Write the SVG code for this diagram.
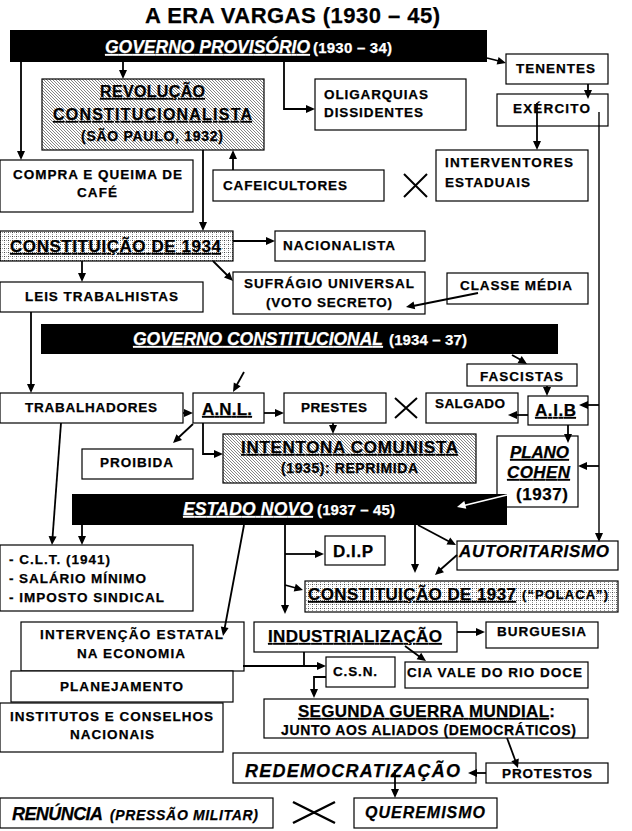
<svg xmlns="http://www.w3.org/2000/svg" width="632" height="831" viewBox="0 0 632 831">
<style>
.t{font-family:"Liberation Sans",Arial,sans-serif;font-weight:bold;font-size:13.5px;fill:#000;stroke:#000;stroke-width:0.25}
.l{font-size:17px}
.s{font-size:14px}
.i{font-style:italic}
.u{text-decoration:underline}
.w{fill:#fff;stroke:#fff}
.m{text-anchor:middle}
.box{fill:#fff;stroke:#000;stroke-width:1.2}
.hb{fill:url(#hatch);stroke:#000;stroke-width:1.2}
.db{fill:url(#dots);stroke:#000;stroke-width:1.2}
.bar{fill:#000}
.c{fill:none;stroke:#000;stroke-width:1.8}
.x{fill:none;stroke:#000;stroke-width:2}
</style>
<defs>
<pattern id="hatch" width="3" height="3" patternUnits="userSpaceOnUse"><rect width="3" height="3" fill="#fff"/><path d="M-1,-1 L4,4 M-1,2 L1,4 M2,-1 L4,1" stroke="#333" stroke-width="0.6"/></pattern>
<pattern id="dots" width="4" height="4" patternUnits="userSpaceOnUse"><rect width="4" height="4" fill="#fff"/><rect x="0" y="0" width="1" height="1" fill="#444"/><rect x="2" y="0" width="1" height="1" fill="#999"/><rect x="0" y="2" width="1" height="1" fill="#999"/></pattern>
</defs>

<rect width="632" height="831" fill="#fff"/>

<text class="t" x="292.5" y="23" style="font-size:22px" text-anchor="middle" textLength="295">A ERA VARGAS (1930 – 45)</text>

<g id="governo-provisorio">
<rect class="bar" x="10" y="30" width="477" height="32"/>
<text class="t l i u w" x="105" y="53" style="font-size:17.5px" textLength="205">GOVERNO PROVISÓRIO</text>
<text class="t w" x="313" y="53" style="font-size:15px" textLength="79">(1930 – 34)</text>
</g>

<g id="revolucao">
<rect class="hb" x="42" y="79" width="222" height="71"/>
<text class="t l u m" x="152.5" y="97" style="font-size:16px" textLength="105">REVOLUÇÃO</text>
<text class="t l u m" x="152.5" y="120" style="font-size:16px" textLength="199">CONSTITUCIONALISTA</text>
<text class="t s m" x="152" y="141" textLength="142">(SÃO PAULO, 1932)</text>
</g>

<g id="compra">
<rect class="box" x="0" y="160" width="193" height="52"/>
<text class="t m" x="97.5" y="179" textLength="169">COMPRA E QUEIMA DE</text>
<text class="t m" x="97" y="197" textLength="40">CAFÉ</text>
</g>

<g id="cafeicultores">
<rect class="box" x="213" y="170" width="171" height="31"/>
<text class="t" x="223" y="190" textLength="124">CAFEICULTORES</text>
</g>

<g id="oligarquias">
<rect class="box" x="315" y="79" width="151" height="51"/>
<text class="t" x="324" y="99" textLength="104">OLIGARQUIAS</text>
<text class="t" x="324" y="117" textLength="99">DISSIDENTES</text>
</g>

<g id="tenentes">
<rect class="box" x="506" y="54" width="102" height="30"/>
<text class="t" x="516" y="73" textLength="79">TENENTES</text>
</g>

<g id="exercito">
<rect class="box" x="497" y="94" width="111" height="32"/>
<text class="t" x="513" y="113" textLength="77">EXÉRCITO</text>
</g>

<g id="interventores">
<rect class="box" x="436" y="150" width="152" height="51"/>
<text class="t" x="445" y="167" textLength="128">INTERVENTORES</text>
<text class="t" x="445" y="187" textLength="85">ESTADUAIS</text>
</g>

<g id="x1"><path class="x" d="M404,174 L427,197 M427,174 L404,197"/></g>

<g id="constituicao-1934">
<rect class="db" x="0" y="231" width="233" height="30"/>
<text class="t l u" x="10" y="252" textLength="211">CONSTITUIÇÃO DE 1934</text>
</g>

<g id="nacionalista">
<rect class="box" x="275" y="231" width="150" height="30"/>
<text class="t" x="283" y="250" textLength="112">NACIONALISTA</text>
</g>

<g id="sufragio">
<rect class="box" x="233" y="272" width="192" height="42"/>
<text class="t" x="244" y="288" textLength="170">SUFRÁGIO UNIVERSAL</text>
<text class="t m" x="329" y="307" textLength="126">(VOTO SECRETO)</text>
</g>

<g id="classe-media">
<rect class="box" x="447" y="273" width="141" height="31"/>
<text class="t" x="460" y="290" textLength="112">CLASSE MÉDIA</text>
</g>

<g id="leis">
<rect class="box" x="0" y="282" width="203" height="30"/>
<text class="t m" x="101.5" y="301" textLength="153">LEIS TRABALHISTAS</text>
</g>

<g id="governo-constitucional">
<rect class="bar" x="41" y="324" width="517" height="30"/>
<text class="t l i u w" x="133" y="345" style="font-size:17.5px" textLength="250">GOVERNO CONSTITUCIONAL</text>
<text class="t w" x="389" y="345" style="font-size:15px" textLength="78">(1934 – 37)</text>
</g>

<g id="fascistas">
<rect class="box" x="467" y="364" width="110" height="22"/>
<text class="t" x="480" y="381" textLength="83">FASCISTAS</text>
</g>

<g id="aib">
<rect class="box" x="528" y="396" width="60" height="29"/>
<text class="t l u" x="535" y="416" textLength="41">A.I.B</text>
</g>

<g id="salgado">
<rect class="box" x="426" y="393" width="92" height="30"/>
<text class="t" x="435" y="408" textLength="70">SALGADO</text>
</g>

<g id="x2"><path class="x" d="M395,398 L417,418 M417,398 L395,418"/></g>

<g id="prestes">
<rect class="box" x="284" y="393" width="102" height="30"/>
<text class="t" x="301" y="412" textLength="66">PRESTES</text>
</g>

<g id="anl">
<rect class="box" x="193" y="393" width="71" height="30"/>
<text class="t l u" x="202" y="415" textLength="50">A.N.L.</text>
</g>

<g id="trabalhadores">
<rect class="box" x="0" y="393" width="183" height="30"/>
<text class="t" x="25" y="412" textLength="132">TRABALHADORES</text>
</g>

<g id="proibida">
<rect class="box" x="82" y="449" width="111" height="30"/>
<text class="t" x="100" y="467" textLength="73">PROIBIDA</text>
</g>

<g id="intentona">
<rect class="hb" x="223" y="434" width="253" height="49"/>
<text class="t l u" x="241" y="453" textLength="217">INTENTONA COMUNISTA</text>
<text class="t s" x="281" y="473" textLength="137">(1935): REPRIMIDA</text>
</g>

<g id="plano-cohen">
<rect class="box" x="497" y="436" width="81" height="71"/>
<text class="t l i u" x="510" y="458" textLength="59">PLANO</text>
<text class="t l i u" x="507" y="478" textLength="63">COHEN</text>
<text class="t l" x="516" y="500" textLength="52">(1937)</text>
</g>

<g id="estado-novo">
<rect class="bar" x="72" y="494" width="435" height="31"/>
<text class="t l i u w" x="183" y="515" style="font-size:17.5px" textLength="130">ESTADO NOVO</text>
<text class="t w" x="317" y="515" style="font-size:15px" textLength="78">(1937 – 45)</text>
</g>

<g id="clt">
<rect class="box" x="0" y="545" width="193" height="66"/>
<text class="t" x="9" y="564" textLength="101">- C.L.T. (1941)</text>
<text class="t" x="9" y="583" textLength="137">- SALÁRIO MÍNIMO</text>
<text class="t" x="9" y="602" textLength="155">- IMPOSTO SINDICAL</text>
</g>

<g id="dip">
<rect class="box" x="325" y="536" width="60" height="29"/>
<text class="t l" x="333" y="557" textLength="40">D.I.P</text>
</g>

<g id="autoritarismo">
<rect class="box" x="457" y="541" width="161" height="29"/>
<text class="t l i" x="459" y="557" textLength="150">AUTORITARISMO</text>
</g>

<g id="constituicao-1937">
<rect class="db" x="305" y="581" width="313" height="31"/>
<text class="t l u" x="308" y="600" textLength="208">CONSTITUIÇÃO DE 1937</text>
<text class="t" x="522" y="599" style="font-size:13px" textLength="86">(“POLACA”)</text>
</g>

<g id="industrializacao">
<rect class="box" x="254" y="622" width="203" height="30"/>
<text class="t l u" x="268" y="642" textLength="174">INDUSTRIALIZAÇÃO</text>
</g>

<g id="burguesia">
<rect class="box" x="486" y="622" width="112" height="26"/>
<text class="t" x="497" y="636" textLength="89">BURGUESIA</text>
</g>

<g id="cia-vale">
<rect class="box" x="405" y="662" width="183" height="26"/>
<text class="t" x="407" y="677" textLength="175">CIA VALE DO RIO DOCE</text>
</g>

<g id="csn">
<rect class="box" x="326" y="657" width="69" height="30"/>
<text class="t" x="333" y="676" textLength="44">C.S.N.</text>
</g>

<g id="intervencao">
<rect class="box" x="21" y="622" width="223" height="49"/>
<text class="t" x="40" y="639" textLength="183">INTERVENÇÃO ESTATAL</text>
<text class="t" x="77" y="658" textLength="108">NA ECONOMIA</text>
</g>

<g id="planejamento">
<rect class="box" x="11" y="671" width="222" height="31"/>
<text class="t" x="60" y="691" textLength="123">PLANEJAMENTO</text>
</g>

<g id="institutos">
<rect class="box" x="0" y="703" width="223" height="49"/>
<text class="t" x="10" y="721" textLength="203">INSTITUTOS E CONSELHOS</text>
<text class="t" x="70" y="739" textLength="84">NACIONAIS</text>
</g>

<g id="segunda-guerra">
<rect class="box" x="264" y="699" width="324" height="39"/>
<text class="t l" x="298" y="717" textLength="257"><tspan class="u">SEGUNDA GUERRA MUNDIAL</tspan>:</text>
<text class="t s" x="281" y="735" textLength="295">JUNTO AOS ALIADOS (DEMOCRÁTICOS)</text>
</g>

<g id="protestos">
<rect class="box" x="486" y="763" width="122" height="20"/>
<text class="t" x="502" y="778" textLength="90">PROTESTOS</text>
</g>

<g id="redemocratizacao">
<rect class="box" x="233" y="753" width="243" height="30"/>
<text class="t i" x="245" y="777" style="font-size:18px" textLength="215">REDEMOCRATIZAÇÃO</text>
</g>

<g id="queremismo">
<rect class="box" x="354" y="798" width="143" height="30"/>
<text class="t i" x="365" y="818" style="font-size:16px" textLength="120">QUEREMISMO</text>
</g>

<g id="renuncia">
<rect class="box" x="0" y="798" width="273" height="30"/>
<text class="t i" x="12" y="820" style="font-size:18px" textLength="91">RENÚNCIA</text>
<text class="t i" x="110" y="820" style="font-size:14px" textLength="148">(PRESSÃO MILITAR)</text>
</g>

<g id="x3"><path class="x" style="stroke-width:2.5" d="M293,802 L335,823 M335,802 L293,823"/></g>

<g id="connectors">
<path class="c" d="M123,62 V72"/>
<path class="c" d="M21,62 V153"/>
<path class="c" d="M284,62 V109 H308"/>
<path class="c" d="M487,58 L499,61"/>
<path class="c" d="M588,84 V92"/>
<path class="c" d="M537,103 V143"/>
<path class="c" d="M203,150 V224"/>
<path class="c" d="M233,170 V157"/>
<path class="c" d="M233,241 H268"/>
<path class="c" d="M213,261 L228,276"/>
<path class="c" d="M82,261 V275"/>
<path class="c" d="M478,293 L413,306"/>
<path class="c" d="M31,312 V386"/>
<path class="c" d="M512,355 L521,360"/>
<path class="c" d="M547,386 V389"/>
<path class="c" d="M528,415 H515"/>
<path class="c" d="M568,425 V436"/>
<path class="c" style="stroke-width:1.4" d="M599,112 V535"/>
<path class="c" d="M599,405 H586"/>
<path class="c" d="M599,466 H585"/>
<path class="c" d="M183,413 H186"/>
<path class="c" d="M244,372 L236.5,385.5"/>
<path class="c" d="M264,413 H277"/>
<path class="c" d="M333,423 V427"/>
<path class="c" d="M193,424 L178,438"/>
<path class="c" d="M203,423 V454 H216"/>
<path class="c" d="M61,423 L52.5,538"/>
<path class="c" d="M82,525 V538"/>
<path class="c" d="M244,525 L224.5,629"/>
<path class="c" d="M285,525 V607"/>
<path class="c" d="M285,554 H317"/>
<path class="c" d="M285,585 L296,588"/>
<path class="c" d="M415,525 V566"/>
<path class="c" d="M418,525 L450,542"/>
<path class="c" d="M457,555 L440,570"/>
<path class="c" d="M457,632 H478"/>
<path class="c" d="M405,646 L420,657"/>
<path class="c" d="M304,652 V666"/>
<path class="c" d="M243,666 H319"/>
<path class="c" d="M326,677 H314 V691"/>
<path class="c" d="M507,738 L515.5,761"/>
<path class="c" d="M486,773 H475"/>
<path class="c" d="M395,770 V791"/>
<path d="M507,495 L464,505.5" fill="none" stroke="#fff" stroke-width="1.8"/>
<path fill="#000" d="M123,79 L119,70 L127,70 Z M21,160 L17,151 L25,151 Z M315,109 L306,105 L306,113 Z M506,63 L496.6,64.6 L498.6,56.9 Z M588,99 L584,90 L592,90 Z M537,150 L533,141 L541,141 Z M203,231 L199,222 L207,222 Z M233,150 L229,159 L237,159 Z M275,241 L266,237 L266,245 Z M233,281 L224,277.6 L229.6,272 Z M82,282 L78,273 L86,273 Z M406,307 L413.6,301.4 L415.2,309.3 Z M31,393 L27,384 L35,384 Z M527,364 L517.6,362.9 L521.7,356 Z M547,396 L543,387 L551,387 Z M508,415 L517,411 L517,419 Z M568,443 L564,434 L572,434 Z M599,542 L595,533 L603,533 Z M579,405 L588,401 L588,409 Z M578,466 L587,462 L587,470 Z M193,413 L184,409 L184,417 Z M233,392 L233.8,382.4 L240.7,386.3 Z M284,413 L275,409 L275,417 Z M333,434 L329,425 L337,425 Z M173,443 L176.5,434.2 L182,440 Z M223,454 L214,450 L214,458 Z M52,545 L48.6,535.9 L56.6,536.5 Z M82,545 L78,536 L86,536 Z M223,636 L220.8,626.6 L228.6,628.1 Z M285,614 L281,605 L289,605 Z M324,554 L315,550 L315,558 Z M303,590 L293.7,591.5 L295.8,583.8 Z M415,573 L411,564 L419,564 Z M456,545 L446.5,544.5 L450.2,537.4 Z M435,575 L438.7,566.3 L444,572.2 Z M485,632 L476,628 L476,636 Z M426,661 L416.6,659.3 L421.2,652.8 Z M326,666 L317,662 L317,670 Z M314,698 L310,689 L318,689 Z M518,768 L511.3,761.3 L518.8,758.5 Z M468,773 L477,769 L477,777 Z M395,798 L391,789 L399,789 Z"/>
<path fill="#fff" d="M457,507 L464.3,501 L466.3,508.8 Z"/>
</g>
</svg>
